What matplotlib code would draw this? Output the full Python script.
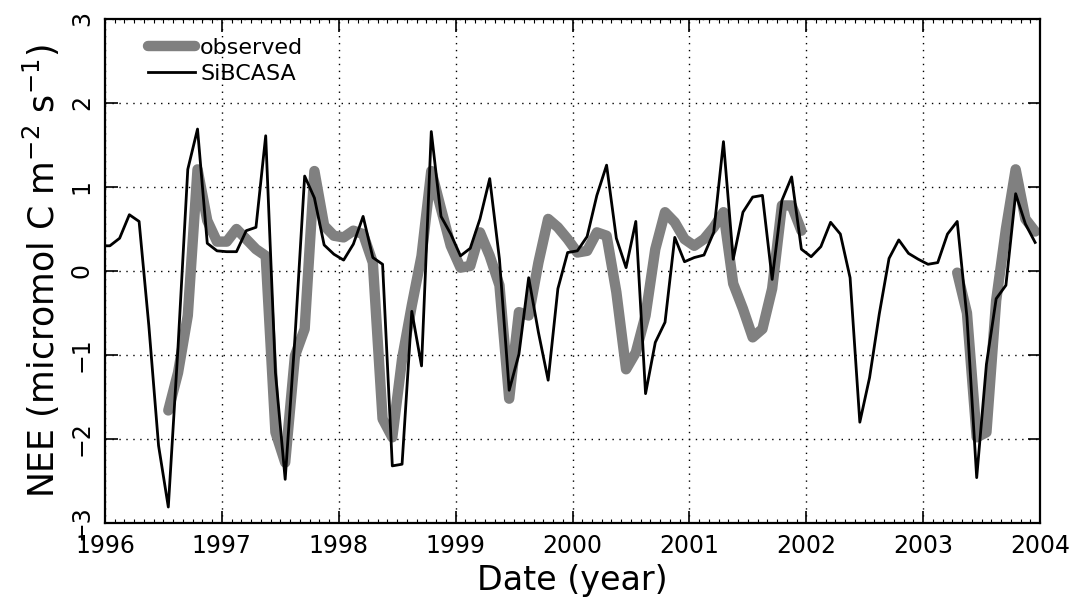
import numpy as np
import matplotlib
matplotlib.use("Agg")
import matplotlib.pyplot as plt
from matplotlib.ticker import MultipleLocator

# monthly NEE values, SiBCASA from Dec 1995 to Dec 2003
sib_start_month = -1
sibcasa = [
    0.30,
    0.30, 0.39, 0.67, 0.59, -0.65, -2.08, -2.81, -0.90, 1.21, 1.69, 0.33, 0.24,
    0.23, 0.23, 0.48, 0.52, 1.61, -1.21, -2.48, -0.80, 1.13, 0.87, 0.31, 0.20,
    0.13, 0.32, 0.65, 0.16, 0.08, -2.32, -2.30, -0.48, -1.13, 1.66, 0.65, 0.44,
    0.18, 0.27, 0.62, 1.10, 0.14, -1.42, -0.99, -0.08, -0.73, -1.30, -0.21, 0.22,
    0.24, 0.41, 0.90, 1.26, 0.39, 0.04, 0.59, -1.46, -0.85, -0.61, 0.40, 0.11,
    0.16, 0.19, 0.46, 1.54, 0.14, 0.70, 0.88, 0.90, -0.10, 0.84, 1.12, 0.26,
    0.17, 0.29, 0.58, 0.44, -0.08, -1.80, -1.27, -0.51, 0.15, 0.37, 0.21, 0.14,
    0.08, 0.10, 0.44, 0.59, -0.55, -2.46, -1.11, -0.33, -0.17, 0.92, 0.56, 0.34,
]

# observed NEE, Jul 1996 - Dec 2001
obs1_start_month = 6
observed1 = [
    -1.66, -1.21, -0.53, 1.21, 0.60, 0.35,
    0.35, 0.50, 0.38, 0.26, 0.18, -1.92, -2.28, -1.01, -0.69, 1.19, 0.54, 0.42,
    0.40, 0.48, 0.44, 0.10, -1.76, -1.98, -1.05, -0.41, 0.18, 1.19, 0.74, 0.30,
    0.04, 0.06, 0.46, 0.18, -0.17, -1.52, -0.49, -0.53, 0.10, 0.62, 0.52, 0.38,
    0.22, 0.24, 0.46, 0.42, -0.25, -1.17, -0.97, -0.53, 0.26, 0.70, 0.58, 0.38,
    0.30, 0.38, 0.52, 0.70, -0.15, -0.45, -0.79, -0.69, -0.21, 0.78, 0.78, 0.48,
]

# observed NEE, Apr 2003 - Dec 2003
obs2_start_month = 87
observed2 = [-0.02, -0.50, -1.98, -1.92, -0.35, 0.50, 1.21, 0.62, 0.47]

year_ticks = list(range(1996, 2005))
nee_ticks = [-3, -2, -1, 0, 1, 2, 3]


def month_dates(start, n):
    # mid-month positions in decimal years
    k = np.arange(start, start + n)
    return 1996 + (k + 0.5) / 12.0


plt.rcParams["font.family"] = ["DejaVu Sans"]
plt.rcParams["mathtext.default"] = "regular"

fig = plt.figure(figsize=(10.73, 6.01), dpi=100)
ax = fig.add_axes([105 / 1073, 78 / 601, 935 / 1073, 504 / 601])

gray = "#808080"
ax.plot(month_dates(obs1_start_month, len(observed1)), observed1, color=gray,
        lw=7.5, solid_capstyle="round", solid_joinstyle="round", label="observed")
ax.plot(month_dates(obs2_start_month, len(observed2)), observed2, color=gray,
        lw=7.5, solid_capstyle="round", solid_joinstyle="round")
ax.plot(month_dates(sib_start_month, len(sibcasa)), sibcasa, color="black",
        lw=2.0, label="SiBCASA")

ax.set_xlim(1996, 2004)
ax.set_ylim(-3, 3)
ax.set_xticks(year_ticks)
ax.set_yticks(nee_ticks)
ax.xaxis.set_minor_locator(MultipleLocator(1 / 12))
ax.grid(True, which="major", color="black", linestyle=(0, (1, 4)), lw=1.0)

ax.tick_params(axis="both", which="major", direction="in", length=9, width=1.2,
               top=True, right=True, labelsize=17, pad=8)
ax.tick_params(axis="x", which="minor", direction="in", length=3, width=0.8,
               top=True, bottom=True)
ax.tick_params(axis="y", which="minor", left=False, right=False)
for lab in ax.get_yticklabels():
    lab.set_rotation(90)
    lab.set_va("center")
for sp in ax.spines.values():
    sp.set_linewidth(1.6)

ax.set_xlabel("Date (year)", fontsize=24, labelpad=4)
ax.set_ylabel("NEE (micromol C m$^{-2}$ s$^{-1}$)", fontsize=25, labelpad=6)

leg = ax.legend(loc="upper left", bbox_to_anchor=(0.046, 0.962), frameon=False,
                fontsize=16, handlelength=2.1, handletextpad=0.25,
                labelspacing=0.25, borderpad=0, borderaxespad=0)

fig.savefig("out.png", dpi=100)
